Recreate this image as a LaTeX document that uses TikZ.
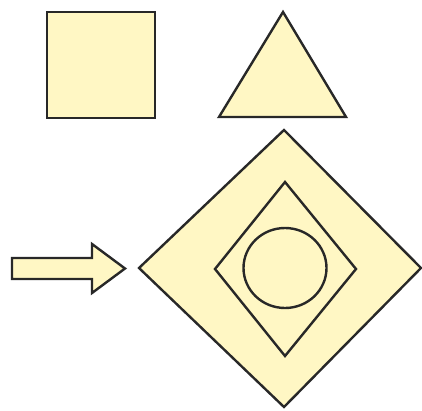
\documentclass[tikz,border=0pt]{standalone}
\begin{document}
\begin{tikzpicture}[x=1pt,y=-1pt,
  shapefill/.style={fill=shapeyellow,draw=shapeline,line width=2.4pt,line join=miter}]
\definecolor{shapeyellow}{RGB}{255,247,196}
\definecolor{shapeline}{RGB}{40,40,40}
\useasboundingbox (0,0) rectangle (422,411);
\fill[white] (0,0) rectangle (422,411);
% square
\draw[shapefill] (47,12) rectangle (155,118);
% triangle
\draw[shapefill] (283,12) -- (346,117) -- (219,117) -- cycle;
% big diamond
\draw[shapefill] (284,130) -- (421,268) -- (284,407) -- (139,268) -- cycle;
% inner diamond
\draw[shapefill] (285,182) -- (356,269) -- (285,356) -- (215,269) -- cycle;
% circle
\draw[shapefill] (285,268) ellipse [x radius=41.5, y radius=40];
% arrow
\draw[shapefill] (12,258) -- (92,258) -- (92,244) -- (125,268.5) -- (92,293) -- (92,279) -- (12,279) -- cycle;
\end{tikzpicture}
\end{document}
